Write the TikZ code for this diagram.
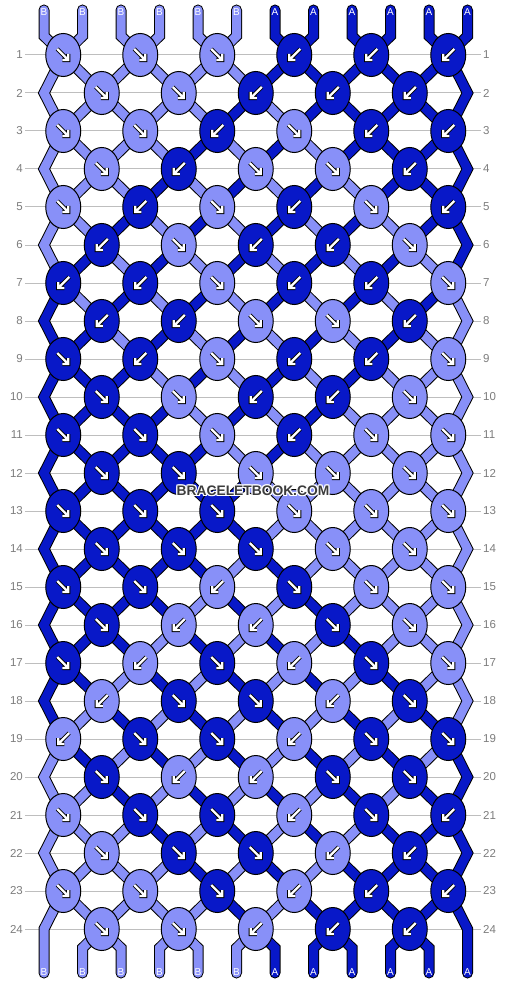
\documentclass[tikz,border=0pt]{standalone}
\usepackage{fontspec}
\setmainfont{Liberation Sans}
\definecolor{lightc}{RGB}{136,144,248}
\definecolor{darkc}{RGB}{8,24,200}
\definecolor{gridc}{RGB}{190,190,190}
\definecolor{numc}{RGB}{125,125,125}
\definecolor{wmc}{RGB}{60,60,60}
\newcommand\getpos[2]{\pgfmathtruncatemacro#2{mod(#1,24)}\pgfmathtruncatemacro#2{#2>11?23-#2:#2}}
\newcommand\arrSE[2]{%
  \draw[arrout,shift={(#1,#2)}] (-6,-6)--(4,4) (5,-1)--(5,5)--(-1,5);
  \draw[arrin,shift={(#1,#2)}] (-6,-6)--(4,4) (5,-1)--(5,5)--(-1,5);}
\newcommand\arrSW[2]{%
  \draw[arrout,shift={(#1,#2)}] (6,-6)--(-4,4) (-5,-1)--(-5,5)--(1,5);
  \draw[arrin,shift={(#1,#2)}] (6,-6)--(-4,4) (-5,-1)--(-5,5)--(1,5);}
\begin{document}
\begin{tikzpicture}[x=1pt,y=-1pt,
  gridline/.style={draw=gridc,line width=1pt},
  rownum/.style={text=numc,font=\fontsize{11.5}{12}\selectfont,inner sep=0pt},
  strlab/.style={text=white,font=\fontsize{10}{10}\selectfont,inner sep=0pt},
  strout/.style={draw=black,line width=11pt,line cap=round,line join=miter},
  strin/.style={line width=9pt,line cap=round,line join=miter},
  knot/.style={draw=black,line width=1pt},
  arrout/.style={draw=black,line width=4.2pt,line join=miter},
  arrin/.style={draw=white,line width=2.2pt,line join=miter},
  wm/.style={font=\bfseries\fontsize{13.8}{14}\selectfont,inner sep=0pt}]
\useasboundingbox (0,0) rectangle (506,984);
\fill[white] (0,0) rectangle (506,984);
% row lines and numbers
\foreach \r in {1,...,24}{
  \pgfmathsetmacro\yy{55+38*(\r-1)}
  \draw[gridline] (25,\yy) -- (481,\yy);
  \node[rownum,anchor=east] (numL\r) at (23,\yy) {\r};
  \node[rownum,anchor=west] (numR\r) at (483,\yy) {\r};
}
% strings
\foreach \i in {0,...,11}{
  \pgfmathtruncatemacro\cz{isodd(\i)?23-\i:\i}
  \pgfmathsetmacro\xt{44+38.5*\i}
  \xdef\strpath{(\xt,10) -- (\xt,36)}
  \foreach \s in {1,...,24}{
    \pgfmathtruncatemacro\ca{\cz+\s-1}\getpos{\ca}{\pa}
    \pgfmathtruncatemacro\cb{\cz+\s}\getpos{\cb}{\pb}
    \pgfmathsetmacro\xx{44+19.25*(\pa+\pb)}
    \pgfmathsetmacro\yy{55+38*(\s-1)}
    \xdef\strpath{\strpath -- (\xx,\yy)}
  }
  \xdef\strpath{\strpath -- (\xt,948) -- (\xt,973)}
  \ifnum\i<6 \def\sc{lightc}\else\def\sc{darkc}\fi
  \draw[strout] \strpath;
  \draw[strin,draw=\sc] \strpath;
}
% string labels
\foreach \i in {0,...,11}{
  \pgfmathsetmacro\xt{44+38.5*\i}
  \ifnum\i<6 \def\lab{B}\else\def\lab{A}\fi
  \node[strlab] (top\i) at (\xt,12.5) {\lab};
  \node[strlab] (bot\i) at (\xt,972) {\lab};
}
% knots
\foreach \r/\dl in {1/{1,1,1,0,0,0},2/{1,1,0,0,0},3/{1,1,0,1,0,0},4/{1,0,1,1,0},
  5/{1,0,1,0,1,0},6/{0,1,0,0,1},7/{0,0,1,0,0,1},8/{0,0,1,1,0},
  9/{1,0,1,0,0,1},10/{1,1,0,0,1},11/{1,1,1,0,1,1},12/{1,1,1,1,1},
  13/{1,1,1,1,1,1},14/{1,1,1,1,1},15/{1,1,0,1,1,1},16/{1,0,0,1,1},
  17/{1,0,1,0,1,1},18/{0,1,1,0,1},19/{0,1,1,0,1,1},20/{1,0,0,1,1},
  21/{1,1,1,0,1,0},22/{1,1,1,0,0},23/{1,1,1,0,0,0},24/{1,1,0,0,0}}{
  \pgfmathtruncatemacro\t{\r-1}
  \pgfmathsetmacro\yy{55+38*\t}
  \foreach \d [count=\k from 0] in \dl {
    \pgfmathtruncatemacro\L{isodd(\r)?2*\k:2*\k+1}
    \pgfmathsetmacro\xx{44+38.5*(\L+0.5)}
    \pgfmathtruncatemacro\mA{mod(\L-\t+54,24)}
    \pgfmathtruncatemacro\mB{mod(52-\L-\t,24)}
    \ifnum\d=1 \let\mm\mA\else\let\mm\mB\fi
    \ifnum\mm<11 \def\kc{lightc}\else\def\kc{darkc}\fi
    \draw[knot,fill=\kc] (\xx,\yy) ellipse [x radius=17.5pt, y radius=21.5pt];
    \ifnum\d=1 \arrSE{\xx}{\yy}\else\arrSW{\xx}{\yy}\fi
  }
}
% watermark
\foreach \dx/\dy [count=\n] in {-1/-1,0/-1,1/-1,-1/0,1/0,-1/1,0/1,1/1}{
  \node[wm,text=white] (wmh\n) at (253+\dx,491+\dy) {BRACELETBOOK.COM};
}
\node[wm,text=wmc] (wm) at (253,491) {BRACELETBOOK.COM};
\end{tikzpicture}
\end{document}
